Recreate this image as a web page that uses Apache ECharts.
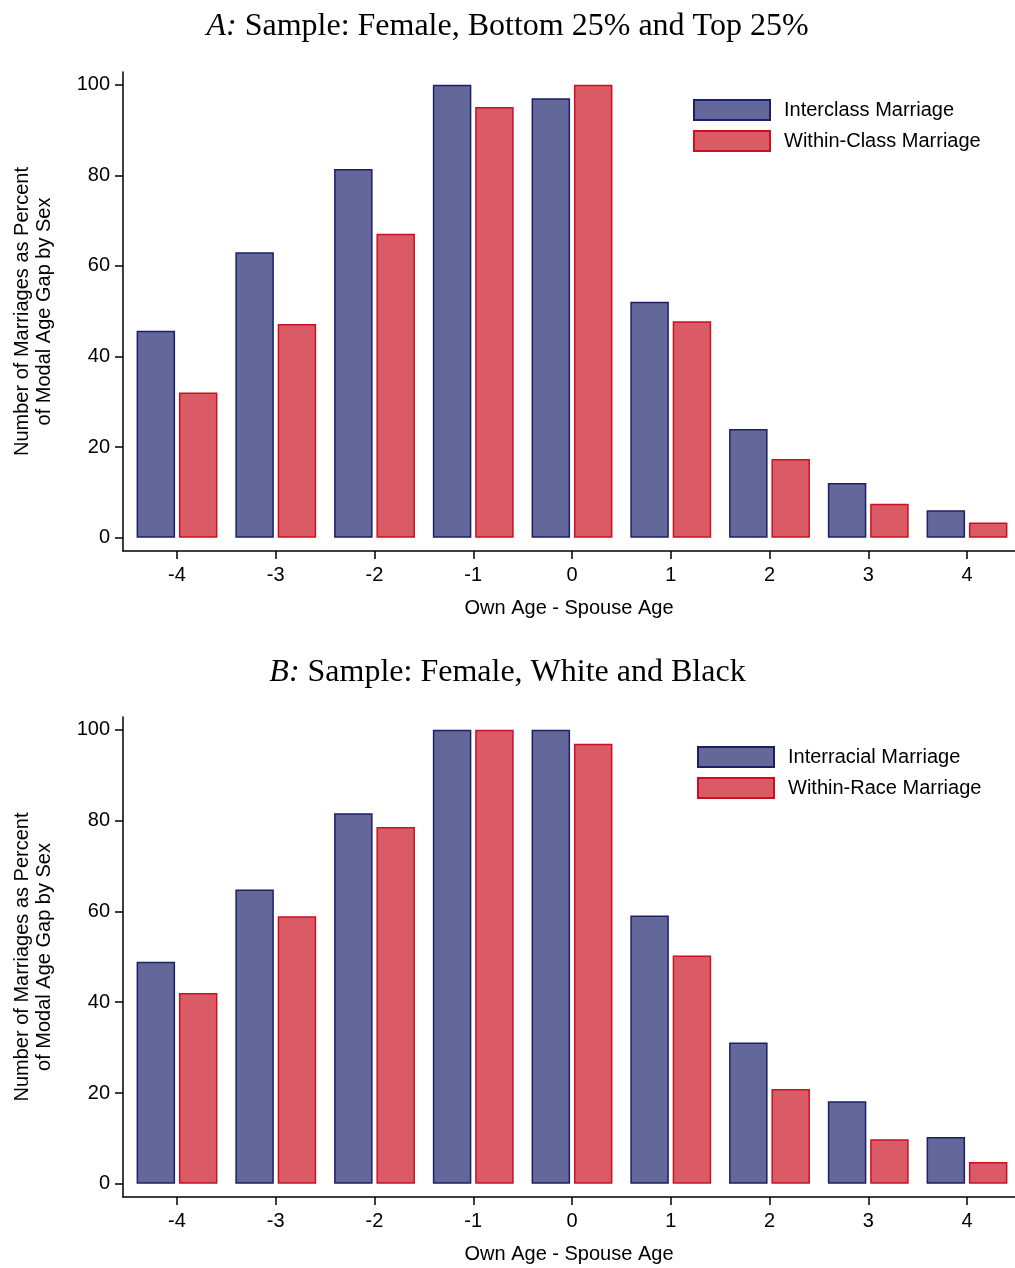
<!DOCTYPE html>
<html>
<head>
<meta charset="utf-8">
<script src="https://cdn.jsdelivr.net/npm/echarts@6/dist/echarts.min.js"></script>
<style>html,body{margin:0;padding:0;background:#fff}#c{width:1015px;height:1268px}</style>
</head>
<body>
<div id="c"></div>
<script>
const categories = [-4, -3, -2, -1, 0, 1, 2, 3, 4];
const interclass = [45.7, 63.0, 81.4, 100, 97.0, 52.1, 24.0, 12.1, 6.1];
const withinClass = [32.1, 47.2, 67.1, 95.1, 100, 47.8, 17.4, 7.5, 3.4];
const interracial = [48.9, 64.8, 81.6, 100, 100, 59.1, 31.1, 18.2, 10.3];
const withinRace = [42.0, 58.9, 78.6, 100, 96.9, 50.3, 20.9, 9.8, 4.8];
const yTicks = [0, 20, 40, 60, 80, 100];
const seriesNames = ['Interclass Marriage', 'Within-Class Marriage', 'Interracial Marriage', 'Within-Race Marriage'];
const titleA = ['A:', 'Sample: Female, Bottom 25% and Top 25%'];
const titleB = ['B:', 'Sample: Female, White and Black'];
const xName = 'Own Age - Spouse Age';
const yName = 'Number of Marriages as Percent\nof Modal Age Gap by Sex';

const BLUE = '#63679a', BLUE_B = '#1c2068', RED = '#da5b65', RED_B = '#cc1020';
const sans = 'Liberation Sans, Arial, sans-serif';
const serif = 'Liberation Serif, Times New Roman, serif';
const toPts = v => categories.map((c, i) => [c, v[i]]);

function xAx(gi) {
  return {
    gridIndex: gi, type: 'value', min: -4.547, max: 4.486,
    name: xName, nameLocation: 'middle', nameGap: 47,
    nameTextStyle: { fontFamily: sans, fontSize: 20, color: '#000' },
    axisLine: { onZero: false, lineStyle: { color: '#000', width: 1.5 } },
    axisTick: { customValues: categories, length: 8, lineStyle: { color: '#000', width: 1.5 } },
    axisLabel: { customValues: categories, formatter: v => String(v), fontFamily: sans, fontSize: 20, color: '#000', margin: 14 },
    splitLine: { show: false }
  };
}
function yAx(gi) {
  return {
    gridIndex: gi, type: 'value', min: -2.9, max: 102.8,
    name: yName, nameLocation: 'middle', nameGap: 68,
    nameTextStyle: { fontFamily: sans, fontSize: 20, color: '#000', lineHeight: 22, align: 'center' },
    axisLine: { show: true, onZero: false, lineStyle: { color: '#000', width: 1.5 } },
    axisTick: { show: true, customValues: yTicks, length: 8, lineStyle: { color: '#000', width: 1.5 } },
    axisLabel: { customValues: yTicks, fontFamily: sans, fontSize: 20, color: '#000', margin: 13 },
    splitLine: { show: false }
  };
}
function bar(name, vals, gi, fill, border) {
  return {
    name, type: 'bar', xAxisIndex: gi, yAxisIndex: gi, data: toPts(vals),
    barWidth: 38.5, barGap: '10%',
    itemStyle: { color: fill, borderColor: border, borderWidth: 1.5 },
    animation: false
  };
}
function legend(names, left, top) {
  return {
    data: names, orient: 'vertical', left, top, padding: 0, itemWidth: 76, itemHeight: 20, itemGap: 9,
    icon: 'rect', selectedMode: false,
    textStyle: { fontFamily: sans, fontSize: 20, color: '#000', padding: [0, 0, 0, 9] }
  };
}
function title(parts, top) {
  return {
    text: '{i|' + parts[0] + '} ' + parts[1], left: 'center', top,
    textStyle: { fontFamily: serif, fontSize: 32, fontWeight: 'normal', color: '#000',
      rich: { i: { fontFamily: serif, fontSize: 32, fontStyle: 'italic', color: '#000' } } }
  };
}

const chart = echarts.init(document.getElementById('c'), null, { renderer: 'canvas' });
chart.setOption({
  backgroundColor: '#fff',
  animation: false,
  title: [title(titleA, 6), title(titleB, 652)],
  legend: [legend([seriesNames[0], seriesNames[1]], 693, 99), legend([seriesNames[2], seriesNames[3]], 697, 746)],
  grid: [
    { left: 123, right: 0, top: 72, height: 479 },
    { left: 123, right: 0, top: 717, height: 480 }
  ],
  xAxis: [xAx(0), xAx(1)],
  yAxis: [yAx(0), yAx(1)],
  series: [
    bar(seriesNames[0], interclass, 0, BLUE, BLUE_B),
    bar(seriesNames[1], withinClass, 0, RED, RED_B),
    bar(seriesNames[2], interracial, 1, BLUE, BLUE_B),
    bar(seriesNames[3], withinRace, 1, RED, RED_B)
  ]
});
</script>
</body>
</html>
